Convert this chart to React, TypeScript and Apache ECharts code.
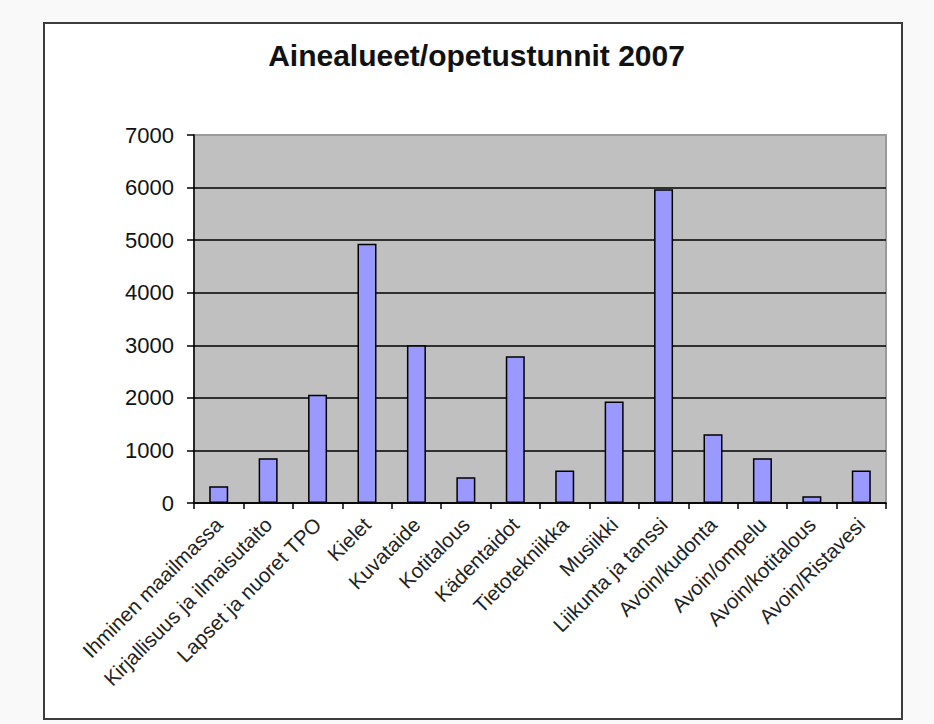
import React, { useEffect, useRef } from "react";
import * as echarts from "echarts";

const categories = [
  "Ihminen maailmassa",
  "Kirjallisuus ja ilmaisutaito",
  "Lapset ja nuoret TPO",
  "Kielet",
  "Kuvataide",
  "Kotitalous",
  "Kädentaidot",
  "Tietotekniikka",
  "Musiikki",
  "Liikunta ja tanssi",
  "Avoin/kudonta",
  "Avoin/ompelu",
  "Avoin/kotitalous",
  "Avoin/Ristavesi",
];

const hours = [320, 850, 2060, 4930, 3000, 490, 2790, 620, 1930, 5970, 1310, 850, 130, 620];

const yMin = 0;
const yMax = 7000;
const yStep = 1000;

const titleText = "Ainealueet/opetustunnit 2007";

const FONT = "'Liberation Sans', Arial, sans-serif";

export default function App() {
  const ref = useRef<HTMLDivElement>(null);

  useEffect(() => {
    if (!ref.current) return;
    const chart = echarts.init(ref.current, undefined, { renderer: "svg" });
    chart.setOption({
      animation: false,
      backgroundColor: "#f9f9f9",
      textStyle: { fontFamily: FONT },
      graphic: [
        {
          type: "rect",
          z: -10,
          shape: { x: 44, y: 23, width: 858, height: 696 },
          style: { fill: "#ffffff", stroke: "#3c3c3c", lineWidth: 2 },
        },
        {
          type: "text",
          x: 476.5,
          y: 55,
          style: {
            text: titleText,
            fontSize: 30,
            fontWeight: "bold",
            fontFamily: FONT,
            fill: "#111111",
            align: "center",
            verticalAlign: "middle",
          },
        },
      ],
      grid: {
        left: 194,
        top: 135,
        width: 692,
        height: 368,
        show: true,
        backgroundColor: "#c0c0c0",
        borderColor: "#9a9a9a",
        borderWidth: 2,
      },
      xAxis: {
        type: "category",
        data: categories,
        boundaryGap: true,
        axisLine: { show: true, lineStyle: { color: "#000", width: 1.5 } },
        axisTick: { show: true, length: 6, lineStyle: { color: "#000", width: 1.5 } },
        axisLabel: {
          rotate: 45,
          interval: 0,
          margin: 18,
          fontSize: 20.5,
          color: "#222",
          fontFamily: FONT,
        },
        splitLine: { show: false },
      },
      yAxis: {
        type: "value",
        min: yMin,
        max: yMax,
        interval: yStep,
        axisLine: { show: true, lineStyle: { color: "#000", width: 1.5 } },
        axisTick: { show: true, length: 7, lineStyle: { color: "#000", width: 1.5 } },
        axisLabel: {
          margin: 20,
          fontSize: 22,
          color: "#111",
          fontFamily: FONT,
          formatter: (v: number) => String(v),
        },
        splitLine: {
          show: true,
          showMaxLine: false,
          lineStyle: { color: "#000", width: 1.5 },
        },
      },
      series: [
        {
          type: "bar",
          data: hours,
          barWidth: 19,
          itemStyle: { color: "#9999ff", borderColor: "#000", borderWidth: 1.5 },
        },
      ],
    });
    return () => chart.dispose();
  }, []);

  return (
    <div
      ref={ref}
      style={{ position: "absolute", left: 0, top: 0, width: 934, height: 724 }}
    />
  );
}
